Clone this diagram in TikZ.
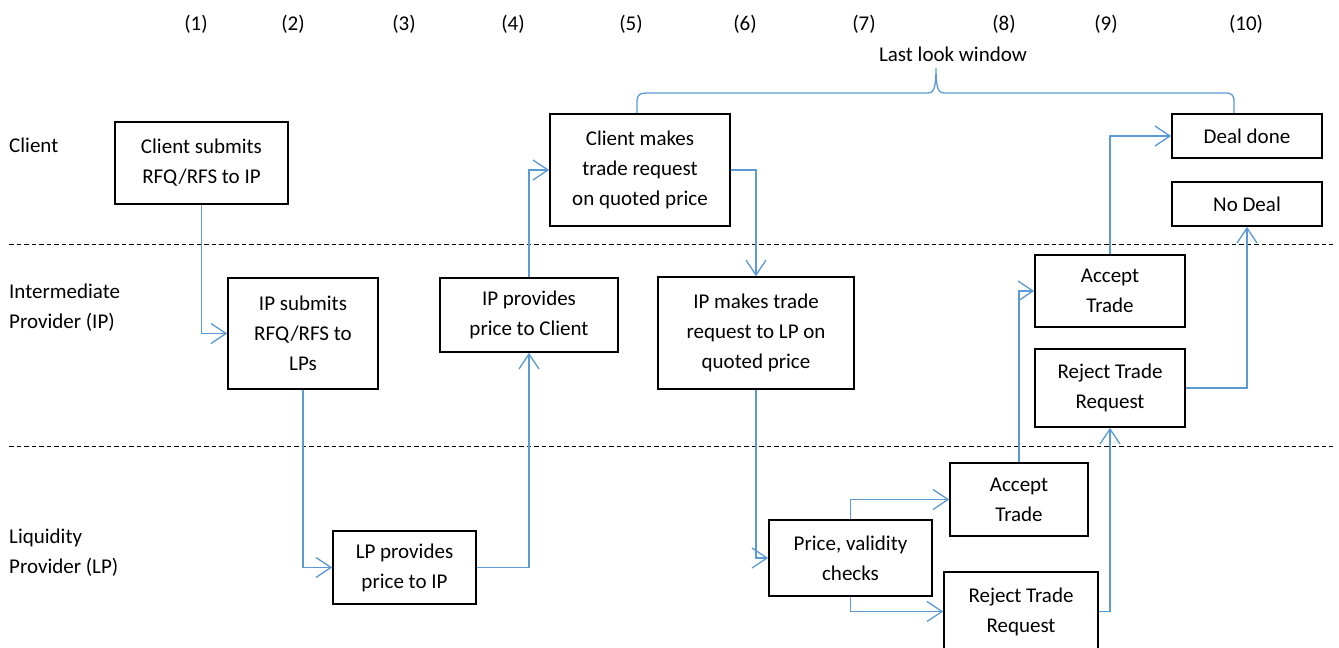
\documentclass[tikz,border=0pt]{standalone}
\usepackage{fontspec}
\setmainfont{Carlito}
\usetikzlibrary{arrows.meta}
\definecolor{flowblue}{HTML}{5B9BD5}
\tikzset{
  box/.style={draw=black, line width=1.6pt, align=center, inner sep=0pt,
    font=\fontsize{21pt}{30pt}\selectfont},
  lbl/.style={align=left, inner sep=0pt, anchor=west, font=\fontsize{21pt}{30pt}\selectfont},
  txt/.style={inner sep=0pt, font=\fontsize{21pt}{30pt}\selectfont},
  flow/.style={draw=flowblue, line width=1.3pt, -{Straight Barb[length=15pt,width=20pt,line width=1.3pt]}},
  lane/.style={draw=black, line width=0.9pt, dash pattern=on 4.5pt off 3pt},
  brace/.style={draw=flowblue, line width=1.3pt}
}
\begin{document}
\begin{tikzpicture}[x=1pt,y=-1pt]
\useasboundingbox (0,0) rectangle (1339,648);
\fill[white] (0,0) rectangle (1339,648);
% column numbers
\node[txt] (c1) at (196,24) {(1)};
\node[txt] (c2) at (293,24) {(2)};
\node[txt] (c3) at (404,24) {(3)};
\node[txt] (c4) at (513,24) {(4)};
\node[txt] (c5) at (631,24) {(5)};
\node[txt] (c6) at (745,24) {(6)};
\node[txt] (c7) at (864,24) {(7)};
\node[txt] (c8) at (1004,24) {(8)};
\node[txt] (c9) at (1106,24) {(9)};
\node[txt] (c10) at (1246,24) {(10)};
\node[txt] (llw) at (953,54) {Last look window};
% lane labels
\node[lbl] (lclient) at (9,145) {Client};
\node[lbl] (lip) at (9,308) {Intermediate\\Provider (IP)};
\node[lbl] (llp) at (9,553) {Liquidity\\Provider (LP)};
% lane separators
\coordinate (d1a) at (9,244); \coordinate (d1b) at (1333,244);
\coordinate (d2a) at (9,446); \coordinate (d2b) at (1333,446);
\draw[lane] (d1a) -- (d1b);
\draw[lane] (d2a) -- (d2b);
% boxes
\node[box, minimum width=173pt, minimum height=82pt] (cs) at (201.5,163) {Client submits\\RFQ/RFS to IP};
\node[box, minimum width=150pt, minimum height=111pt] (ips) at (303,333.5) {IP submits\\RFQ/RFS to\\LPs};
\node[box, minimum width=143pt, minimum height=73pt] (lpp) at (404.5,567.5) {LP provides\\price to IP};
\node[box, minimum width=178pt, minimum height=74pt] (ipp) at (529,315) {IP provides\\price to Client};
\node[box, minimum width=180pt, minimum height=112pt] (cm) at (640,170) {Client makes\\trade request\\on quoted price};
\node[box, minimum width=196pt, minimum height=112pt] (ipm) at (756,333) {IP makes trade\\request to LP on\\quoted price};
\node[box, minimum width=163pt, minimum height=76pt] (pv) at (850.5,558) {Price, validity\\checks};
\node[box, minimum width=138pt, minimum height=73pt] (alp) at (1019,499.5) {Accept\\Trade};
\node[box, minimum width=154pt, minimum height=79pt] (rlp) at (1021,611.5) {Reject Trade\\Request};
\node[box, minimum width=150pt, minimum height=72pt] (aip) at (1110,291) {Accept\\Trade};
\node[box, minimum width=150pt, minimum height=78pt] (rip) at (1110,388) {Reject Trade\\Request};
\node[box, minimum width=150pt, minimum height=44pt] (dd) at (1247,136) {Deal done};
\node[box, minimum width=150pt, minimum height=44pt] (nd) at (1247,204) {No Deal};
% connectors
\draw[flow] (cs.south) |- (ips.west);
\draw[flow] (ips.south) |- (lpp.west);
\draw[flow] (lpp.east) -| (ipp.south);
\draw[flow] (ipp.north) |- (cm.west);
\draw[flow] (cm.east) -| (ipm.north);
\draw[flow] (ipm.south) |- (pv.west);
\draw[flow] (pv.north) |- (alp.west);
\draw[flow] (pv.south) |- (rlp.west);
\draw[flow] (alp.north) |- (aip.west);
\draw[flow] (rlp.east) -| (rip.south);
\draw[flow] (aip.north) |- (dd.west);
\draw[flow] (rip.east) -| (nd.south);
% last look brace
\draw[brace] (637,113) -- (637,101) .. controls (637,95) and (640,93) .. (647,93)
  -- (928,93) .. controls (933,93) and (936,90) .. (936,68)
  .. controls (936,90) and (939,93) .. (944,93)
  -- (1225,93) .. controls (1232,93) and (1234,95) .. (1234,102) -- (1234,113);
\end{tikzpicture}
\end{document}
